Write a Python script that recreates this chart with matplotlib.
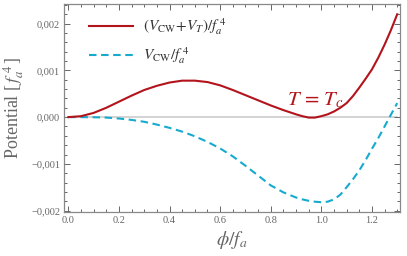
import matplotlib
matplotlib.use("Agg")
import matplotlib.pyplot as plt
from matplotlib.ticker import MultipleLocator, FuncFormatter

# data
phi = [0.00, 0.05, 0.10, 0.15, 0.20, 0.25, 0.30, 0.35, 0.40, 0.45, 0.50,
       0.55, 0.60, 0.65, 0.70, 0.75, 0.80, 0.85, 0.90, 0.925, 0.95, 0.975,
       1.00, 1.025, 1.05, 1.075, 1.10, 1.125, 1.15, 1.175, 1.20, 1.225,
       1.25, 1.275, 1.30]
v_total = [0.0, 0.00002, 0.00009, 0.00020, 0.00033, 0.00046, 0.00058, 0.00067,
           0.00074, 0.00078, 0.00078, 0.00075, 0.00068, 0.00058, 0.00047,
           0.00036, 0.00025, 0.00015, 0.00006, 0.00002, -0.00001, -0.00001,
           0.00002, 0.00006, 0.00012, 0.00020, 0.00030, 0.00045, 0.00063,
           0.00082, 0.00102, 0.00127, 0.00155, 0.00186, 0.00220]
v_cw = [0.0, 0.0, -0.000003, -0.00001, -0.00003, -0.00006, -0.00010, -0.00016,
        -0.00023, -0.00031, -0.00041, -0.00053, -0.00067, -0.00084, -0.00104,
        -0.00125, -0.00146, -0.00161, -0.00172, -0.00176, -0.00179, -0.00181,
        -0.00182, -0.00181, -0.00176, -0.00166, -0.00150, -0.00133, -0.00114,
        -0.00092, -0.00068, -0.00045, -0.00020, 0.00005, 0.00030]
labels = [r"$(V_{\rm CW}\!+\!V_T)/f_a^{\;4}$", r"$V_{\rm CW}/f_a^{\;4}$"]
annot = r"$T\,=\,T_c$"

red = "#B3141C"
blue = "#17AACF"
grey = "#666666"

plt.rcParams["mathtext.fontset"] = "stix"
plt.rcParams["font.family"] = ["Liberation Serif", "DejaVu Serif"]

fig = plt.figure(figsize=(4.07, 2.56), dpi=100)
ax = fig.add_axes([64.3/407, 1-212/256, (400-64.3)/407, (212-4)/256])

ax.plot([phi[0], phi[-1]], [0, 0], color="#C8C8C8", lw=1.1, zorder=1)
ax.plot(phi, v_total, color=red, lw=1.5, label=labels[0], zorder=3)
ax.plot(phi, v_cw, color=blue, lw=1.5, ls=(0, (3.6, 2.2)), label=labels[1], zorder=2)

ax.set_xlim(-0.016, 1.311)
ax.set_ylim(-0.00203, 0.00242)

ax.xaxis.set_major_locator(MultipleLocator(0.2))
ax.xaxis.set_minor_locator(MultipleLocator(0.05))
ax.yaxis.set_major_locator(MultipleLocator(0.001))
ax.yaxis.set_minor_locator(MultipleLocator(0.0002))
ax.xaxis.set_major_formatter(FuncFormatter(lambda v, p: f"{v:.1f}"))
ax.yaxis.set_major_formatter(FuncFormatter(
    lambda v, p: (f"{v:.3f}".replace(".", ",").replace("-", "\u2212")) if abs(v) > 1e-9 else "0,000"))

ax.tick_params(which="both", direction="in", top=True, right=True, color=grey,
               labelcolor=grey, labelsize=7.5, width=0.7)
ax.tick_params(which="major", length=4, pad=3)
ax.tick_params(which="minor", length=2)
for s in ax.spines.values():
    s.set_color("#888888")
    s.set_linewidth(0.9)

ax.set_ylabel(r"Potential [$\,f_a^{\;4}\,$]", color=grey, fontsize=13, labelpad=4)
ax.set_xlabel(r"$\phi/f_a$", color=grey, fontsize=14, labelpad=3)

ax.text(0.975, 0.00026, annot, color=red, fontsize=15, ha="center", va="baseline")

leg = ax.legend(loc="upper left", bbox_to_anchor=(0.045, 0.985), frameon=False,
                fontsize=11, handlelength=2.9, handletextpad=0.65, labelspacing=0.55,
                borderaxespad=0.2)
for t in leg.get_texts():
    t.set_color("#333333")

fig.savefig("out.png", dpi=100)
